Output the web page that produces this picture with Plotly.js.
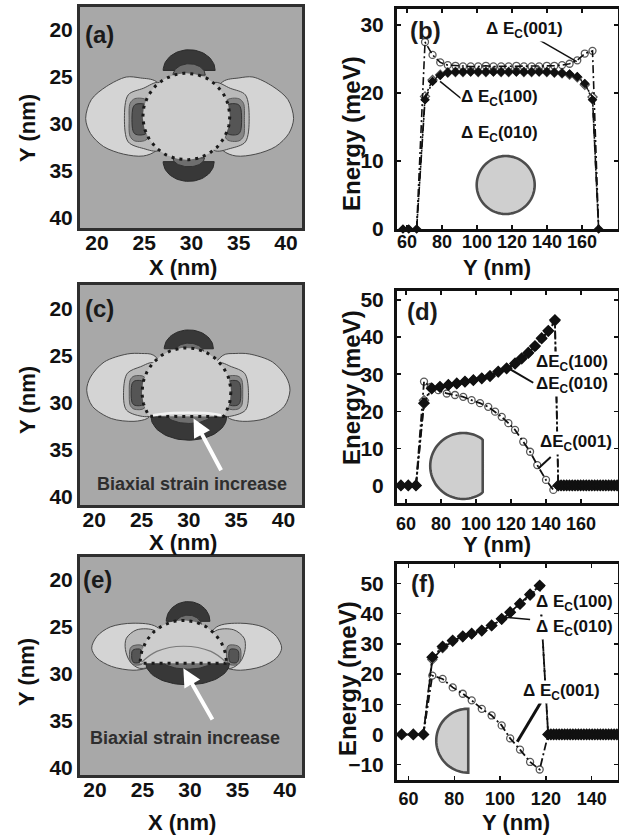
<!DOCTYPE html>
<html><head><meta charset="utf-8">
<script src="https://cdn.plot.ly/plotly-3.0.1.min.js"></script>
<style>html,body{margin:0;padding:0;background:#fff;overflow:hidden}#chart{width:619px;height:836px}</style>
</head><body><div id="chart"></div>
<script>
// ================= DATA =================
// ---- tick labels ----
const mapTicks = [20, 25, 30, 35, 40];
const b_xTicks = [60, 80, 100, 120, 140, 160];
const b_yTicks = [0, 10, 20, 30];
const d_xTicks = [60, 80, 100, 120, 140, 160];
const d_yTicks = [0, 10, 20, 30, 40, 50];
const f_xTicks = [60, 80, 100, 120, 140];
const f_yTicks = [-10, 0, 10, 20, 30, 40, 50];

// ---- panel (b): full dot, Y (nm) vs Energy (meV) ----
const b_zeroLeftY = [57.7, 61.0, 65.5];
const b_zeroLeftE = [0, 0, 0];
const b_Y    = [70.3, 74.6, 79.0, 83.3, 87.7, 92.0, 96.4, 100.7, 105.1, 109.4, 113.8, 118.1, 122.5, 126.8, 131.2, 135.5, 139.9, 144.2, 148.6, 152.9, 157.3, 161.6, 166.0];
const b_E001 = [27.5, 25.6, 24.5, 24.1, 24.0, 23.9, 23.9, 23.9, 24.0, 23.9, 23.9, 23.9, 24.0, 23.9, 23.9, 23.9, 24.0, 24.0, 24.1, 24.3, 24.8, 25.8, 26.2];
const b_E100 = [19.0, 21.7, 22.6, 23.0, 23.1, 23.1, 23.1, 23.1, 23.1, 23.1, 23.1, 23.1, 23.1, 23.1, 23.1, 23.1, 23.1, 23.0, 22.9, 22.8, 22.4, 21.4, 19.0];
const b_E010 = [19.5, 21.9, 22.7, 23.0, 23.1, 23.1, 23.2, 23.1, 23.1, 23.2, 23.1, 23.1, 23.2, 23.1, 23.1, 23.2, 23.1, 23.0, 22.9, 22.7, 22.3, 21.2, 19.4];
const b_endY = [169.5];
const b_endE = [0];

// ---- panel (d): truncated dot ----
const d_zeroLeftY = [57.1, 61.3, 65.7];
const d_zeroLeftE = [0, 0, 0];
const d_Y001 = [70.3, 74.1, 78.5, 83.3, 88.0, 92.7, 97.5, 102.3, 107.0, 110.9, 114.7, 118.5, 122.3, 127.0, 130.9, 135.0, 140.0, 144.2];
const d_E001 = [28.0, 26.6, 25.7, 24.8, 24.4, 23.9, 23.0, 22.2, 21.2, 19.9, 18.5, 16.8, 15.0, 11.8, 9.1, 5.5, 1.5, -1.2];
const d_Y100 = [70.3, 74.7, 79.4, 84.2, 89.0, 93.7, 98.5, 103.3, 108.0, 112.7, 117.5, 122.3, 126.1, 129.9, 133.7, 137.5, 141.3, 145.1];
const d_E100 = [22.2, 26.2, 26.6, 27.1, 27.5, 28.0, 28.4, 28.9, 29.5, 30.7, 31.6, 32.9, 34.3, 35.8, 37.6, 39.7, 41.7, 44.6];
const d_E010 = [23.0, 26.0, 26.5, 27.0, 27.4, 27.9, 28.4, 28.9, 29.6, 30.5, 31.5, 32.7, 34.0, 35.6, 37.4, 39.5, 41.5, 44.3];
const d_tailY = [147.0, 148.6, 150.2, 151.8, 153.4, 155.0, 156.6, 158.2, 159.8, 161.4, 163.0, 164.6, 166.2, 167.8, 169.4, 171.0, 172.6, 174.2, 175.8, 177.4, 179.0, 180.6];
const d_tailE = [0, 0, 0, 0, 0, 0, 0, 0, 0, 0, 0, 0, 0, 0, 0, 0, 0, 0, 0, 0, 0, 0];

// ---- panel (f): half dot ----
const f_zeroLeftY = [57.0, 62.1, 66.5];
const f_zeroLeftE = [0, 0, 0];
const f_Y    = [70.4, 74.9, 79.3, 83.7, 87.6, 92.0, 96.3, 100.7, 104.4, 108.7, 113.1, 117.3];
const f_E001 = [19.5, 18.4, 15.6, 13.5, 11.3, 8.5, 6.3, 3.0, -1.3, -5.0, -9.1, -11.6];
const f_E100 = [25.6, 29.1, 31.1, 32.5, 33.4, 34.4, 36.1, 38.3, 40.5, 43.3, 46.4, 49.3];
const f_E010 = [24.8, 28.6, 30.8, 32.3, 33.3, 34.5, 36.0, 38.1, 40.3, 43.0, 46.0, 49.0];
const f_tailY = [121.0, 122.2, 123.4, 124.6, 125.8, 127.0, 128.2, 129.4, 130.6, 131.8, 133.0, 134.2, 135.4, 136.6, 137.8, 139.0, 140.2, 141.4, 142.6, 143.8, 145.0, 146.2, 147.4, 148.6, 149.8, 151.0];
const f_tailE = [0, 0, 0, 0, 0, 0, 0, 0, 0, 0, 0, 0, 0, 0, 0, 0, 0, 0, 0, 0, 0, 0, 0, 0, 0, 0];

// ---- strain maps (X, Y in nm) ----
// (a) full dot
const a_dot = [29.45, 29.2, 4.6];                 // centre X, centre Y, radius
const a_mirror = [29.8, 29.5];                    // symmetry axis: lobes, inner layers
const a_lobeX = [26.3, 24.6, 23.1, 21.0, 19.4, 18.8, 19.3, 20.7, 22.8, 24.9, 26.3, 28.5];
const a_lobeY = [25.5, 25.1, 25.0, 26.0, 27.4, 29.4, 31.0, 32.4, 33.2, 33.4, 32.8, 29.2];
const a_midX = [26.6, 24.9, 23.3, 22.9, 23.3, 24.9, 26.6, 28.0];
const a_midY = [25.6, 26.2, 26.9, 29.4, 31.9, 32.6, 32.8, 29.2];
const a_darkX = [24.0, 23.5, 23.4, 23.5, 24.0, 25.3, 25.3];
const a_darkY = [27.3, 27.8, 29.5, 31.3, 31.8, 31.6, 27.5];
const a_coreX = [24.1, 23.8, 23.8, 24.1, 25.2, 25.2];
const a_coreY = [27.9, 28.3, 30.7, 31.1, 31.0, 28.0];
const a_capTop = [29.75, 2.75, 24.3, 2.2];        // centre X, half width, flat Y, height
const a_capBot = [29.7, 2.7, 34.0, 2.1];

// (c) dot truncated at the bottom
const c_dot = [29.75, 28.9, 4.7, 31.5];           // centre X, centre Y, radius, cut Y
const c_mirror = [29.95, 29.7];
const c_lobeX = [26.3, 25.0, 23.5, 21.05, 19.6, 19.2, 19.8, 21.8, 24.2, 25.6, 26.3, 28.5];
const c_lobeY = [25.0, 24.8, 24.85, 25.7, 27.3, 28.7, 30.4, 31.7, 32.0, 31.7, 31.0, 28.5];
const c_midX = [26.3, 24.9, 23.5, 23.1, 23.4, 25.3, 26.3, 27.8];
const c_midY = [25.8, 26.2, 26.9, 28.7, 30.8, 31.5, 31.3, 28.7];
const c_darkX = [24.2, 23.8, 23.7, 23.8, 24.2, 25.3, 25.3];
const c_darkY = [27.2, 27.6, 29.0, 30.3, 30.7, 30.6, 27.3];
const c_coreX = [24.3, 24.0, 24.0, 24.3, 25.2, 25.2];
const c_coreY = [27.7, 28.0, 30.0, 30.3, 30.2, 27.8];
const c_capTop = [30.0, 2.6, 24.3, 2.0];
const c_capBot = [30.0, 4.0, 31.5, 2.5];
const c_lensX = [26.2, 28.0, 30.0, 32.0, 33.4];
const c_lensY = [31.35, 31.15, 31.1, 31.15, 31.35];
const c_arrow = [33.5, 37.35, 30.5, 31.7];        // tail X, tail Y, head X, head Y
const c_label = [30.35, 38.6];

// (e) half dot
const e_dot = [29.3, 28.85, 4.55, 28.85];
const e_mirror = [29.65, 29.5];
const e_lobeX = [26.5, 24.0, 21.6, 20.2, 19.65, 20.2, 21.75, 24.0, 25.4, 26.5, 28.0];
const e_lobeY = [25.0, 24.6, 25.0, 26.0, 27.25, 28.3, 29.2, 29.6, 29.4, 28.9, 27.5];
const e_midX = [26.3, 24.4, 23.3, 23.2, 23.7, 24.7, 26.3, 27.5];
const e_midY = [25.4, 25.3, 26.2, 27.4, 28.7, 29.4, 29.0, 27.2];
const e_darkX = [24.0, 23.7, 23.7, 24.0, 25.0, 25.0];
const e_darkY = [27.0, 27.3, 28.6, 29.0, 28.9, 27.0];
const e_coreX = [24.1, 23.9, 23.9, 24.1, 24.8, 24.8];
const e_coreY = [27.4, 27.6, 28.5, 28.8, 28.7, 27.4];
const e_capTop = [29.8, 2.3, 24.4, 2.1];
const e_capBot = [29.75, 4.4, 28.85, 2.3];
const e_lensX = [24.9, 26.5, 29.3, 32.2, 33.8];
const e_lensY = [28.75, 27.6, 27.05, 27.6, 28.75];
const e_arrow = [32.45, 35.0, 29.3, 29.4];
const e_label = [29.5, 36.8];

// ---- inset dot outlines in right panels: anchor Y (nm), anchor E (meV), radius px, cut px ----
const b_inset = [116.4, 6.47, 29, 29];
const d_inset = [92.7, 5.26, 33, 19.5];
const f_inset = [86.1, -2.05, 32, 0];

// ================= DRAWING =================
const W = 619, H = 836;
const PX = v => v / W, PY = v => 1 - v / H;
const SANS = 'Liberation Sans, Arial, sans-serif';
const INK = '#111111';

const C = { bg: '#a8a8a8', lobe: '#d4d4d4', mid: '#bababa', dark: '#858585', core: '#555555',
            cap: '#383838', capBand: '#6e6e6e', dot: '#cdcdcd', edge: '#4a4a4a' };

const traces = [];
const shapes = [];
const ann = [];

function poly(xs, ys, fill, lc, lw, xa, ya, spline) {
  traces.push({ type: 'scatter', mode: 'lines', x: xs.concat([xs[0]]), y: ys.concat([ys[0]]),
    fill: 'toself', fillcolor: fill, line: { color: lc, width: lw, shape: spline ? 'spline' : 'linear', smoothing: 0.9 },
    xaxis: xa, yaxis: ya, hoverinfo: 'skip', showlegend: false });
}
const mirror = (xs, m) => xs.map(x => 2 * m - x);
function semiEllipse(p, dir) {
  const xs = [], ys = [];
  for (let i = 0; i <= 36; i++) { const t = Math.PI * i / 36; xs.push(p[0] + p[1] * Math.cos(t)); ys.push(p[2] + dir * p[3] * Math.sin(t)); }
  return [xs, ys];
}
function dotOutline(p) {
  const xs = [], ys = [];
  for (let i = 0; i < 120; i++) { const t = 2 * Math.PI * i / 120; xs.push(p[0] + p[2] * Math.cos(t));
    let y = p[1] + p[2] * Math.sin(t); if (p.length > 3) y = Math.min(y, p[3]); ys.push(y); }
  return [xs, ys];
}

function drawMap(xa, ya, dot, mir, lobeX, lobeY, midX, midY, darkX, darkY, coreX, coreY, capTop, capBot) {
  poly(lobeX, lobeY, C.lobe, C.edge, 1, xa, ya, true);
  poly(mirror(lobeX, mir[0]), lobeY, C.lobe, C.edge, 1, xa, ya, true);
  poly(midX, midY, C.mid, C.edge, 1, xa, ya, true);
  poly(mirror(midX, mir[1]), midY, C.mid, C.edge, 1, xa, ya, true);
  poly(darkX, darkY, C.dark, '#5a5a5a', 1, xa, ya, true);
  poly(mirror(darkX, mir[1]), darkY, C.dark, '#5a5a5a', 1, xa, ya, true);
  poly(coreX, coreY, C.core, '#333', 1, xa, ya, true);
  poly(mirror(coreX, mir[1]), coreY, C.core, '#333', 1, xa, ya, true);
  let s = semiEllipse(capTop, -1); poly(s[0], s[1], C.cap, '#2a2a2a', 1, xa, ya, false);
  s = semiEllipse(capBot, 1); poly(s[0], s[1], C.cap, '#2a2a2a', 1, xa, ya, false);
  const bt = semiEllipse([capTop[0], capTop[1] * 0.62, capTop[2] + 0.5, capTop[3] * 0.55], -1);
  poly(bt[0], bt[1], C.capBand, '#333', 1, xa, ya, false);
  const bb = semiEllipse([capBot[0], capBot[1] * 0.62, capBot[2] - 0.4, capBot[3] * 0.45], 1);
  poly(bb[0], bb[1], C.capBand, '#333', 1, xa, ya, false);
  const o = dotOutline(dot);
  poly(o[0], o[1], C.dot, 'rgba(0,0,0,0)', 0, xa, ya, false);
  traces.push({ type: 'scatter', mode: 'lines', x: o[0].concat([o[0][0]]), y: o[1].concat([o[1][0]]),
    line: { color: '#1a1a1a', width: 3, dash: '3px,5px' }, xaxis: xa, yaxis: ya, hoverinfo: 'skip', showlegend: false });
}

drawMap('x', 'y', a_dot, a_mirror, a_lobeX, a_lobeY, a_midX, a_midY, a_darkX, a_darkY, a_coreX, a_coreY, a_capTop, a_capBot);
drawMap('x3', 'y3', c_dot, c_mirror, c_lobeX, c_lobeY, c_midX, c_midY, c_darkX, c_darkY, c_coreX, c_coreY, c_capTop, c_capBot);
drawMap('x5', 'y5', e_dot, e_mirror, e_lobeX, e_lobeY, e_midX, e_midY, e_darkX, e_darkY, e_coreX, e_coreY, e_capTop, e_capBot);
traces.push({ type: 'scatter', mode: 'lines', x: c_lensX, y: c_lensY, line: { color: '#f2f2f2', width: 2.5, shape: 'spline' }, xaxis: 'x3', yaxis: 'y3', hoverinfo: 'skip', showlegend: false });
traces.push({ type: 'scatter', mode: 'lines', x: e_lensX, y: e_lensY, line: { color: '#7a7a7a', width: 1.2, shape: 'spline' }, xaxis: 'x5', yaxis: 'y5', hoverinfo: 'skip', showlegend: false });

[['x', 'y'], ['x3', 'y3'], ['x5', 'y5']].forEach(([xa, ya]) => shapes.push({ type: 'rect', xref: xa + ' domain', yref: ya + ' domain', x0: 0, x1: 1, y0: 0, y1: 1, fillcolor: C.bg, line: { width: 0 }, layer: 'below' }));

[['x3', 'y3', c_arrow, c_label], ['x5', 'y5', e_arrow, e_label]].forEach(([xa, ya, ar, lb]) => {
  ann.push({ xref: xa, yref: ya, axref: xa, ayref: ya, x: ar[2], y: ar[3], ax: ar[0], ay: ar[1], text: '', showarrow: true,
    arrowhead: 2, arrowsize: 0.9, arrowwidth: 4, arrowcolor: '#ffffff', standoff: 0 });
  ann.push({ xref: xa, yref: ya, x: lb[0], y: lb[1], xanchor: 'center', yanchor: 'middle', text: 'Biaxial strain increase', showarrow: false,
    font: { family: SANS, size: 18, color: '#2e2e2e', weight: 'bold' } });
});

// ---- right panels ----
const DASH = '8px,3px,2px,3px';
function series(xa, ya, xs, ys, sym, sizes, lw) {
  traces.push({ type: 'scatter', mode: 'lines+markers', x: xs, y: ys, xaxis: xa, yaxis: ya, cliponaxis: false,
    line: { color: INK, width: lw, dash: DASH },
    marker: { symbol: sym, size: sizes, color: INK, line: { color: INK, width: 1.3 } },
    hoverinfo: 'skip', showlegend: false });
}
const endSized = (n, s) => Array.from({ length: n }, (_, i) => (i === 0 || i === n - 1) ? 0 : s);

series('x2', 'y2', b_zeroLeftY.concat(b_Y, b_endY), b_zeroLeftE.concat(b_E100, b_endE), 'diamond', 6, 1.6);
series('x2', 'y2', b_zeroLeftY.slice(-1).concat(b_Y, b_endY), b_zeroLeftE.slice(-1).concat(b_E010, b_endE), 'diamond-open', endSized(b_Y.length + 2, 7), 1.6);
series('x2', 'y2', b_zeroLeftY.slice(-1).concat(b_Y, b_endY), b_zeroLeftE.slice(-1).concat(b_E001, b_endE), 'circle-open', endSized(b_Y.length + 2, 7), 1.6);

series('x4', 'y4', d_zeroLeftY.concat(d_Y100, d_tailY), d_zeroLeftE.concat(d_E100, d_tailE), 'diamond', 8, 1.8);
series('x4', 'y4', d_zeroLeftY.slice(-1).concat(d_Y100, d_tailY.slice(0, 1)), d_zeroLeftE.slice(-1).concat(d_E010, d_tailE.slice(0, 1)), 'diamond-open', endSized(d_Y100.length + 2, 7), 1.8);
series('x4', 'y4', d_zeroLeftY.slice(-1).concat(d_Y001, d_tailY.slice(0, 1)), d_zeroLeftE.slice(-1).concat(d_E001, d_tailE.slice(0, 1)), 'circle-open', endSized(d_Y001.length + 2, 7), 1.8);

series('x6', 'y6', f_zeroLeftY.concat(f_Y, f_tailY), f_zeroLeftE.concat(f_E100, f_tailE), 'diamond', 8, 1.8);
series('x6', 'y6', f_zeroLeftY.slice(-1).concat(f_Y, f_tailY.slice(0, 1)), f_zeroLeftE.slice(-1).concat(f_E010, f_tailE.slice(0, 1)), 'diamond-open', endSized(f_Y.length + 2, 7), 1.8);
series('x6', 'y6', f_zeroLeftY.slice(-1).concat(f_Y, f_tailY.slice(0, 1)), f_zeroLeftE.slice(-1).concat(f_E001, f_tailE.slice(0, 1)), 'circle-open', endSized(f_Y.length + 2, 7), 1.8);

function insetPath(r, cut) {
  const pts = [];
  for (let i = 0; i < 90; i++) { const t = 2 * Math.PI * i / 90; pts.push(Math.min(r * Math.cos(t), cut).toFixed(2) + ',' + (r * Math.sin(t)).toFixed(2)); }
  return 'M' + pts.join('L') + 'Z';
}
[['x2', 'y2', b_inset], ['x4', 'y4', d_inset], ['x6', 'y6', f_inset]].forEach(([xa, ya, p]) => shapes.push({
  type: 'path', xref: xa, yref: ya, xsizemode: 'pixel', ysizemode: 'pixel', xanchor: p[0], yanchor: p[1],
  path: insetPath(p[2], p[3]), fillcolor: '#cfcfcf', line: { color: '#4d4d4d', width: 2.6 }, layer: 'below' }));

// curve labels + leader lines
const LBL = { family: SANS, size: 17, color: INK, weight: 'bold' };
function label(xa, ya, x, y, txt) { ann.push({ xref: xa, yref: ya, x, y, xanchor: 'center', yanchor: 'middle', text: txt, showarrow: false, font: LBL, bgcolor: '#ffffff', borderpad: 0 }); }
function leader(xa, ya, x0, y0, x1, y1, w) { shapes.push({ type: 'line', xref: xa, yref: ya, x0, y0, x1, y1, line: { color: INK, width: w }, layer: 'above' }); }
label('x2', 'y2', 127.4, 29.3, 'Δ E<sub>C</sub>(001)');
leader('x2', 'y2', 132.2, 28.3, 157.0, 24.6, 1.5);
label('x2', 'y2', 113.1, 19.2, 'Δ E<sub>C</sub>(100)');
leader('x2', 'y2', 78.9, 21.7, 91.8, 19.0, 1.5);
label('x2', 'y2', 113.1, 14.0, 'Δ E<sub>C</sub>(010)');

label('x4', 'y4', 154.7, 33.0, 'ΔE<sub>C</sub>(100)');
label('x4', 'y4', 154.7, 27.1, 'ΔE<sub>C</sub>(010)');
leader('x4', 'y4', 117.5, 31.9, 132.7, 27.7, 2);
label('x4', 'y4', 157.0, 11.5, 'ΔE<sub>C</sub>(001)');
leader('x4', 'y4', 135.6, 4.6, 142.7, 7.7, 2);

label('x6', 'y6', 132.7, 43.5, 'Δ E<sub>C</sub>(100)');
label('x6', 'y6', 132.7, 35.3, 'Δ E<sub>C</sub>(010)');
leader('x6', 'y6', 102.1, 38.8, 113.1, 38.1, 1.5);
label('x6', 'y6', 126.9, 14.1, 'Δ E<sub>C</sub>(001)');
leader('x6', 'y6', 107.5, -2.4, 117.7, 10.5, 3);

// panel letters
[['(a)', 99, 34], ['(c)', 99, 308], ['(e)', 97, 579], ['(b)', 425, 30], ['(d)', 422, 311], ['(f)', 423, 583]].forEach(([t, x, y]) =>
  ann.push({ xref: 'paper', yref: 'paper', x: PX(x), y: PY(y), xanchor: 'center', yanchor: 'middle', text: t, showarrow: false, font: { family: SANS, size: 24, color: '#1a1a1a', weight: 'bold' } }));

// axis titles
const TT = { family: SANS, size: 22, color: INK, weight: 'bold' };
const TE = { family: SANS, size: 24, color: INK, weight: 'bold' };
[['X (nm)', 183, 267, 0, TT], ['X (nm)', 183, 542, 0, TT], ['X (nm)', 182, 822, 0, TT],
 ['Y (nm)', 27, 128, -90, TT], ['Y (nm)', 27, 400, -90, TT], ['Y (nm)', 26, 672, -90, TT],
 ['Energy (meV)', 351, 134, -90, TE], ['Energy (meV)', 351, 388, -90, TE], ['Energy (meV)', 347, 678, -90, TE],
 ['Y (nm)', 497, 267, 0, TT], ['Y (nm)', 497, 544, 0, TT], ['Y (nm)', 516, 822, 0, TT]].forEach(([t, x, y, a, f]) =>
  ann.push({ xref: 'paper', yref: 'paper', x: PX(x), y: PY(y), xanchor: 'center', yanchor: 'middle', text: t, textangle: a, showarrow: false, font: f }));

// axes
const TF_MAP = { family: SANS, size: 21, color: INK, weight: 'bold' };
const TF_RY = { family: SANS, size: 21, color: INK, weight: 'bold' };
const TF_RX = { family: SANS, size: 18, color: INK, weight: 'bold' };
function ax(o) { return Object.assign({ showgrid: false, zeroline: false, showline: true, mirror: true, linewidth: 3, linecolor: '#222',
  tickangle: 0, fixedrange: true, tickmode: 'array' }, o); }
const mapX = [PX(80), PX(302)], rightX = [PX(397), PX(618)];
function mapAx(anchor, dom, range, isY) { return ax({ anchor, domain: dom, range, tickvals: mapTicks, ticks: '', tickfont: TF_MAP, linecolor: '#2f2f2f', ticklabelstandoff: isY ? 0 : -6 }); }
function rAx(anchor, dom, range, vals, isY, so) { return ax({ anchor, domain: dom, range, tickvals: vals, ticks: 'inside', ticklen: 4, tickwidth: 1.5, tickcolor: INK,
  mirror: 'ticks', linecolor: INK, tickfont: isY ? TF_RY : TF_RX, ticklabelstandoff: so }); }

const layout = {
  width: W, height: H, margin: { l: 0, r: 0, t: 0, b: 0 }, paper_bgcolor: '#ffffff', plot_bgcolor: '#ffffff', showlegend: false,
  xaxis:  mapAx('y',  mapX, [18.20, 41.69], false),
  yaxis:  mapAx('x',  [PY(228), PY(7)], [41.06, 17.55], true),
  xaxis3: mapAx('y3', mapX, [18.49, 41.97], false),
  yaxis3: mapAx('x3', [PY(505), PY(285)], [40.88, 17.53], true),
  xaxis5: mapAx('y5', mapX, [18.42, 41.79], false),
  yaxis5: mapAx('x5', [PY(775), PY(557)], [40.74, 17.56], true),
  xaxis2: rAx('y2', rightX, [54.29, 180.57], b_xTicks, false, -6),
  yaxis2: rAx('x2', [PY(229), PY(9)], [0, 32.35], b_yTicks, true, 6),
  xaxis4: rAx('y4', rightX, [54.86, 181.14], d_xTicks, false, 2),
  yaxis4: rAx('x4', [PY(503), PY(291)], [-4.72, 52.43], d_yTicks, true, 6),
  xaxis6: rAx('y6', rightX, [54.98, 151.5], f_xTicks, false, 0),
  yaxis6: rAx('x6', [PY(780), PY(564)], [-15.07, 56.46], f_yTicks, true, 6),
  shapes, annotations: ann
};
Plotly.newPlot('chart', traces, layout, { staticPlot: true, displayModeBar: false });
</script></body></html>
